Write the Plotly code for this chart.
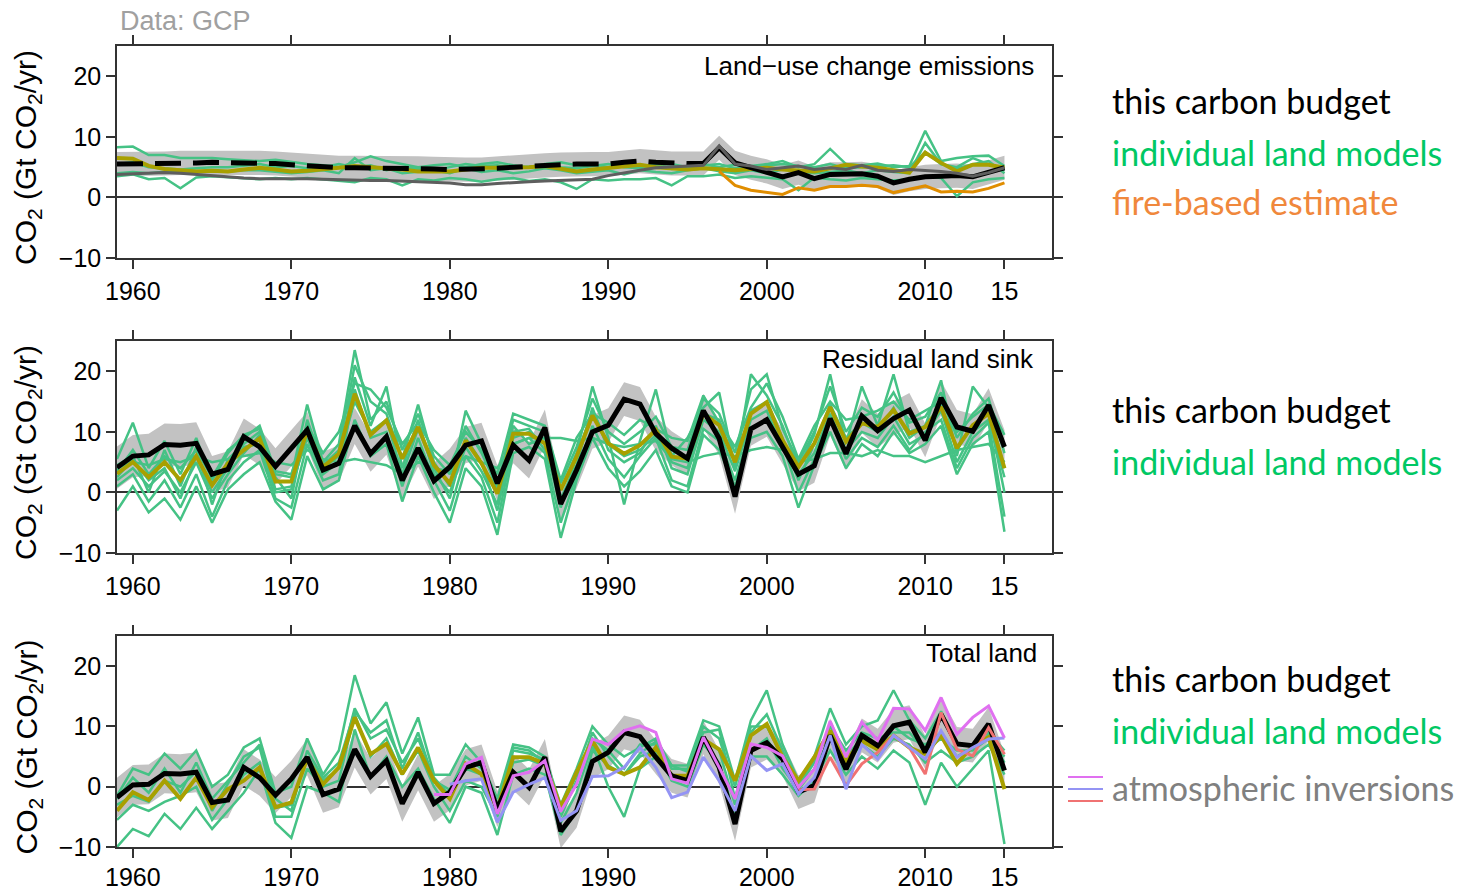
import plotly.graph_objects as go
from plotly.subplots import make_subplots

# ---------------- data (Gt CO2 / yr) ----------------
years = list(range(1959, 2016))
tick_years = [1960, 1970, 1980, 1990, 2000, 2010, 2015]
tick_text = ["1960", "1970", "1980", "1990", "2000", "2010", "15"]

# panel 1: land-use change emissions
eluc_budget = [5.5, 5.5, 5.5, 5.6, 5.7, 5.7, 5.8, 5.8, 5.8, 5.7,
               5.6, 5.4, 5.2, 5.0, 4.9, 4.9, 4.9, 4.8, 4.8, 4.8,
               4.7, 4.6, 4.6, 4.6, 4.8, 5.0, 5.2, 5.3, 5.4, 5.5,
               5.5, 5.5, 5.8, 6.0, 5.8, 5.6, 5.6, 5.6, 8.2, 5.7,
               4.9, 4.3, 3.4, 4.1, 3.1, 3.8, 3.8, 3.9, 3.5, 2.4,
               3.0, 3.4, 3.5, 3.6, 3.4, 4.1, 4.9]
eluc_sigma = [2.0] * 57
eluc_bookkeeping = [3.8, 3.9, 4.0, 4.1, 4.0, 3.8, 3.5, 3.4, 3.2, 3.1,
                    3.1, 3.2, 3.1, 3.0, 2.9, 2.9, 2.8, 2.8, 2.7, 2.7,
                    2.6, 2.4, 2.1, 2.1, 2.3, 2.5, 2.6, 2.7, 2.8, 3.0,
                    3.0, 3.6, 4.1, 4.5, 4.9, 5.0, 5.2, 5.3, 8.5, 5.5,
                    5.2, 4.6, 4.9, 5.2, 4.6, 4.9, 4.6, 5.3, 4.5, 4.3,
                    4.6, 4.5, 4.3, 4.0, 3.5, 4.1, 4.9]
eluc_model_mean = [6.5, 6.4, 5.2, 4.7, 4.5, 4.3, 4.4, 4.3, 4.6, 4.9,
                   4.6, 4.3, 4.4, 4.6, 4.9, 5.2, 5.0, 4.9, 4.6, 4.3,
                   4.3, 4.3, 4.6, 4.9, 4.9, 4.9, 5.0, 5.2, 4.8, 4.3,
                   4.6, 4.9, 5.2, 5.4, 5.0, 4.8, 4.6, 4.8, 4.7, 4.5,
                   4.7, 4.9, 4.6, 4.5, 4.3, 4.8, 5.4, 5.1, 4.9, 4.5,
                   4.1, 7.4, 5.7, 4.3, 5.4, 5.4, 4.9]
eluc_models = [
    [8.3, 8.4, 7.0, 7.0, 6.5, 6.5, 6.5, 6.3, 6.2, 6.0, 6.2, 5.8, 5.5, 5.3, 5.0, 5.8, 6.8, 6.0, 5.5, 5.0,
     5.3, 5.5, 5.0, 5.5, 5.8, 5.3, 5.0, 5.5, 5.8, 5.3, 5.5, 5.0, 5.2, 5.0, 5.4, 5.5, 5.0, 5.5, 5.0, 5.4,
     5.2, 5.5, 6.0, 5.0, 5.5, 8.0, 5.5, 5.3, 5.6, 5.0, 5.2, 11.0, 6.0, 6.5, 6.8, 6.9, 5.2],
    [3.5, 3.8, 3.0, 3.2, 1.5, 3.3, 3.5, 3.3, 3.2, 3.0, 3.2, 3.0, 3.2, 3.0, 2.8, 2.5, 3.2, 3.0, 2.0, 3.0,
     2.8, 3.2, 3.0, 2.6, 3.0, 3.2, 2.7, 3.0, 2.5, 1.4, 3.0, 2.8, 3.0, 3.0, 3.2, 2.0, 3.5, 3.5, 3.8, 3.2,
     3.5, 3.3, 3.0, 1.2, 3.3, 3.0, 2.8, 3.2, 3.0, 2.8, 3.0, 3.5, 3.2, 0.2, 2.5, 3.0, 3.2],
    [4.0, 4.2, 4.0, 4.2, 4.5, 4.3, 4.5, 4.3, 4.5, 4.5, 4.2, 4.0, 4.2, 4.5, 4.0, 6.5, 4.5, 4.8, 4.0, 4.2,
     4.5, 4.0, 4.8, 4.2, 4.5, 4.0, 4.3, 4.8, 4.5, 4.0, 4.2, 4.5, 3.8, 4.5, 4.2, 4.0, 4.5, 4.8, 4.3, 4.0,
     4.5, 4.0, 4.6, 4.3, 4.0, 4.2, 4.5, 4.0, 4.5, 4.2, 4.0, 9.0, 5.5, 5.0, 6.5, 5.5, 4.5],
    [5.5, 5.8, 5.0, 4.8, 4.6, 4.8, 5.0, 5.0, 5.3, 5.5, 5.0, 5.2, 4.8, 5.0, 5.5, 5.0, 5.3, 4.5, 5.0, 4.8,
     4.5, 5.0, 5.5, 5.2, 5.3, 4.8, 5.0, 5.3, 5.0, 4.8, 5.2, 5.5, 5.0, 4.8, 5.5, 4.7, 5.0, 5.2, 5.5, 4.8,
     5.0, 5.3, 5.5, 5.2, 5.0, 5.5, 4.8, 5.0, 5.2, 5.3, 5.0, 7.5, 5.5, 4.8, 5.5, 6.0, 4.0],
]
fire_years = list(range(1997, 2016))
fire_based = [4.3, 2.0, 1.2, 0.8, 0.5, 1.6, 1.2, 1.8, 1.8, 2.0,
              1.8, 0.8, 1.3, 1.9, 0.9, 1.0, 0.9, 1.5, 2.4]

# panel 2: residual land sink
sink_budget = [4.1, 6.0, 6.2, 7.9, 7.8, 8.1, 3.0, 3.8, 9.2, 7.5,
               4.3, 7.3, 10.3, 3.7, 4.8, 11.0, 6.4, 9.2, 2.0, 7.3,
               1.9, 4.2, 7.8, 8.5, 1.5, 7.8, 5.3, 10.7, -1.9, 3.7,
               10.0, 11.1, 15.4, 14.6, 9.7, 7.3, 5.6, 13.5, 8.9, -0.7,
               10.5, 12.0, 7.5, 3.0, 4.4, 12.2, 6.4, 12.6, 10.2, 12.2,
               13.6, 8.6, 15.6, 10.8, 10.1, 14.4, 7.5]
sink_sigma = [3.5, 3.5, 3.5, 3.5, 3.5, 3.5, 3.0, 3.0, 3.0, 3.0,
              3.0, 3.0, 3.0, 3.0, 3.0, 3.0, 3.0, 3.0, 3.0, 3.0,
              3.0, 3.0, 3.0, 3.0, 3.0, 3.0, 3.0, 3.0, 3.0, 3.0,
              2.8, 2.8, 2.8, 2.8, 2.8, 2.8, 2.8, 2.8, 2.8, 2.8,
              2.8, 2.8, 2.8, 2.8, 2.8, 2.8, 2.8, 2.8, 2.8, 2.8,
              2.8, 2.8, 2.8, 2.8, 2.8, 2.8, 2.8]
sink_model_mean = [3.1, 5.0, 2.5, 5.0, 2.0, 6.0, 1.2, 4.8, 7.0, 8.9,
                   1.8, 1.8, 10.3, 4.2, 6.4, 16.3, 9.5, 11.9, 5.6, 10.8,
                   4.5, 1.5, 8.6, 4.8, -0.2, 9.7, 9.7, 8.1, 0.4, 5.9,
                   12.7, 8.1, 6.4, 7.8, 10.3, 5.9, 5.6, 13.0, 11.1, 5.0,
                   13.0, 14.9, 8.6, 4.2, 8.1, 14.1, 8.4, 11.4, 10.8, 13.6,
                   9.7, 10.8, 14.1, 7.3, 11.1, 13.0, 4.0]
sink_models = [
    [5.5, 11.5, 4.0, 8.5, 3.0, 9.0, 2.0, 6.5, 9.5, 10.5, 3.0, 2.5, 14.5, 5.0, 8.0, 23.5, 12.0, 15.0, 7.0, 13.0,
     6.0, 3.0, 11.0, 6.5, 1.0, 12.0, 11.0, 10.0, 1.5, 7.5, 15.5, 10.0, 8.0, 10.0, 12.5, 7.5, 7.0, 15.5, 13.0, 6.5,
     17.0, 19.5, 10.5, 5.0, 10.0, 17.5, 10.0, 14.0, 12.5, 16.5, 11.5, 12.5, 16.5, 9.0, 13.0, 15.5, 6.5],
    [-3.0, 1.0, -3.3, -1.0, -4.5, 1.0, -5.0, 0.5, 3.0, 5.0, -1.5, -4.5, 6.0, 0.5, 2.0, 12.0, 6.0, 8.0, -1.5, 6.0,
     0.0, -5.0, 4.0, 1.0, -7.0, 6.5, 7.5, 5.5, -7.5, 2.0, 9.0, 4.0, 1.0, 3.5, 7.0, 1.0, 0.0, 9.5, 7.0, 1.0,
     9.0, 10.0, 6.0, -2.5, 4.5, 10.0, 4.0, 8.0, 6.0, 10.0, 6.5, 8.0, 11.0, 3.0, 8.0, 10.0, -6.5],
    [4.0, 5.0, 4.5, 5.5, 5.0, 6.0, 5.0, 5.5, 6.0, 6.5, 5.0, 4.5, 7.0, 5.5, 5.0, 5.5, 5.0, 4.5, 3.0, 5.0,
     4.0, 3.5, 6.0, 5.0, 4.0, 8.0, 9.0, 9.0, 9.0, 8.5, 9.0, 8.0, 7.5, 8.0, 8.5, 5.5, 5.0, 6.0, 6.5, 6.0,
     7.0, 7.5, 7.0, 5.0, 5.5, 6.5, 6.5, 6.0, 7.0, 6.0, 6.0, 5.0, 6.0, 7.0, 7.5, 8.0, 5.0],
    [2.0, 4.0, 1.0, 3.5, 0.0, 5.0, -1.0, 3.0, 6.5, 9.5, 0.5, 1.0, 9.0, 3.0, 5.0, 19.0, 11.0, 17.5, 4.0, 12.0,
     3.0, 0.0, 7.5, 3.5, -2.0, 10.0, 10.5, 7.0, -1.0, 4.5, 14.0, 7.0, 5.0, 6.5, 11.0, 4.0, 3.0, 12.0, 10.0, 3.5,
     12.0, 13.5, 7.5, 3.0, 6.5, 13.0, 7.0, 10.0, 9.0, 12.5, 8.0, 9.5, 13.5, 5.0, 10.0, 12.0, 2.5],
    [4.5, 6.0, 0.0, 7.0, 1.0, 7.5, -2.0, 5.5, 8.0, 10.0, 2.5, -1.0, 12.0, 4.5, 7.0, 21.0, 15.0, 13.0, 5.5, 14.5,
     5.0, 1.0, 13.5, 8.0, 0.0, 11.0, 8.0, 9.0, 0.5, 6.5, 17.5, 9.0, -2.0, 8.5, 17.0, 6.0, 9.0, 14.0, 16.5, 4.0,
     19.5, 16.0, 11.0, 4.0, 9.5, 19.5, 8.0, 17.5, 11.0, 19.5, 10.0, 11.0, 18.5, 6.0, 17.5, 14.0, 4.0],
    [1.0, 3.0, -1.5, 2.0, -2.5, 3.0, -4.0, 2.0, 5.0, 7.0, -1.0, -2.5, 8.0, 2.0, 3.0, 17.0, 9.0, 10.0, 1.0, 9.0,
     2.0, -3.0, 6.0, 2.5, -5.0, 8.0, 9.0, 6.5, -5.0, 3.0, 11.0, 5.5, 2.5, 6.0, 9.0, 2.0, 1.0, 10.5, 8.5, 2.0,
     10.5, 12.0, 8.0, 0.0, 5.5, 12.0, 5.5, 9.0, 7.5, 11.0, 7.0, 10.0, 12.0, 4.0, 9.0, 11.5, -4.0],
    [3.5, 7.0, 3.0, 6.0, 4.0, 7.0, 2.5, 7.0, 9.0, 11.0, 3.5, 3.0, 11.0, 6.5, 10.0, 18.0, 17.0, 14.0, 8.0, 11.5,
     7.0, 4.5, 10.0, 7.0, 3.0, 13.0, 12.0, 11.0, 2.0, 9.0, 13.0, 11.5, 9.5, 12.0, 10.5, 9.0, 8.5, 16.0, 11.5, 7.5,
     14.0, 18.0, 12.5, 5.5, 11.0, 15.0, 12.0, 12.5, 13.5, 15.0, 12.0, 13.5, 15.0, 10.0, 12.5, 14.5, 9.5],
    [2.5, 5.5, 2.0, 4.0, -1.0, 6.0, 0.0, 4.0, 7.5, 8.0, 0.0, 0.5, 10.0, 4.0, 6.0, 15.0, 10.0, 12.0, 3.0, 10.5,
     4.0, -1.0, 9.0, 5.0, -3.0, 9.0, 10.0, 8.0, -2.5, 6.0, 13.5, 8.0, 6.0, 7.0, 9.5, 5.0, 4.0, 13.0, 12.0, 5.0,
     13.5, 15.0, 9.0, 2.0, 8.0, 14.5, 9.0, 11.5, 10.0, 14.0, 9.0, 11.0, 14.5, 7.0, 11.0, 13.0, 0.0],
]

# panel 3: total land
total_budget = [-1.8, 0.3, 0.4, 2.2, 2.1, 2.4, -2.6, -2.2, 3.2, 1.5,
                -1.4, 1.3, 4.9, -1.3, -0.4, 6.2, 1.7, 4.3, -2.8, 2.4,
                -2.8, -0.9, 3.2, 4.0, -3.7, 2.4, -0.1, 4.9, -7.4, -4.0,
                4.2, 5.7, 9.0, 8.3, 4.9, 1.8, 1.0, 8.2, 3.2, -6.2,
                6.0, 7.3, 4.6, -0.9, 0.2, 8.5, 2.9, 8.5, 6.8, 10.1,
                10.7, 5.7, 12.0, 7.1, 6.8, 10.4, 2.7]
total_sigma = [3.3, 3.3, 3.3, 3.3, 3.3, 3.3, 3.0, 3.0, 3.0, 3.0,
               3.0, 3.0, 3.0, 3.0, 3.0, 3.0, 3.0, 3.0, 3.0, 3.0,
               3.0, 3.0, 3.0, 3.0, 3.0, 3.0, 3.0, 3.0, 2.8, 2.8,
               2.8, 2.8, 2.8, 2.8, 2.8, 2.8, 2.8, 2.8, 2.8, 2.8,
               2.8, 2.8, 2.8, 2.8, 2.8, 2.8, 2.8, 2.8, 2.8, 2.8,
               2.8, 2.8, 2.8, 2.8, 2.8, 2.8, 2.8]
total_model_mean = [-4.0, -0.9, -2.2, 1.0, -2.0, 1.5, -3.4, -0.4, 1.0, 3.2,
                    -3.4, -2.6, 4.6, 0.4, 3.2, 11.5, 5.4, 7.1, 2.1, 6.5,
                    1.0, -2.0, 3.8, 2.1, -3.7, 4.9, 4.9, 3.8, -3.4, 2.4,
                    7.6, 3.2, 2.1, 3.2, 6.5, 1.8, 1.8, 7.9, 6.2, 1.0,
                    8.5, 10.4, 4.9, 1.0, 4.9, 9.3, 4.3, 7.6, 6.2, 8.5,
                    6.5, 5.4, 8.5, 3.8, 6.8, 8.2, -0.4]
total_models = [
    [-10.0, -7.0, -8.2, -4.5, -7.0, -3.5, -7.0, -4.0, -1.0, 3.0, -6.0, -8.5, 0.0, -1.0, -2.5, 9.5, 1.5, 5.0, 0.0, 3.0,
     -2.0, -6.0, 0.0, -1.0, -8.0, 2.0, 3.0, 2.0, -8.0, -4.0, 6.0, 3.5, 2.0, 5.0, 6.0, 1.0, 0.0, 7.0, 4.0, -5.0,
     5.0, 5.0, 2.0, -1.5, 1.0, 6.0, 2.0, 5.0, 3.0, 6.0, 4.0, -3.0, 4.0, 0.0, 3.0, 6.0, -9.5],
    [-1.5, 3.0, 2.0, 5.5, 3.0, 6.0, 0.0, 2.0, 6.5, 8.0, -1.0, 0.0, 8.0, 2.0, 6.0, 18.5, 10.5, 14.0, 5.5, 11.5,
     2.0, 2.0, 7.0, 4.0, -2.0, 7.0, 6.5, 5.0, -3.0, 3.0, 10.0, 7.0, 5.0, 6.5, 8.0, 3.5, 3.5, 11.0, 10.0, 1.0,
     11.0, 16.0, 7.0, 1.0, 5.0, 13.0, 7.0, 10.0, 11.0, 16.0, 11.0, 8.0, 12.5, 7.0, 7.0, 9.0, 6.0],
    [-5.5, -3.0, -4.0, -2.5, -1.5, 0.0, -5.5, -2.0, 2.0, 4.0, -5.0, -5.0, 3.0, 0.0, 1.0, 12.0, 5.0, 8.0, 2.0, 6.0,
     0.0, -4.0, 1.0, 0.0, -5.0, 4.0, 4.5, 3.5, -6.0, -1.0, 7.0, 0.0, -5.0, 3.0, 5.0, 2.0, 1.5, 8.0, 6.0, -3.0,
     6.0, 8.0, 3.0, -0.5, 3.0, 8.0, 4.0, 7.0, 5.0, 8.0, 7.0, 4.0, 6.0, 4.0, 5.0, 7.0, 2.0],
    [-3.0, -1.5, -2.5, 1.0, 0.0, 2.5, -4.0, 0.5, 5.0, 6.5, -3.5, -3.0, 5.0, 1.0, 3.0, 13.0, 8.0, 9.5, 4.0, 8.0,
     1.5, -1.5, 3.0, 2.0, -4.0, 6.0, 5.5, 4.5, -4.0, 2.0, 8.0, 6.0, 3.0, 7.0, 7.0, 3.0, 3.0, 9.0, 9.5, -2.0,
     9.0, 12.0, 6.0, 0.0, 4.0, 10.0, 6.0, 9.0, 8.0, 9.0, 9.0, 6.0, 8.0, 6.0, 6.0, 8.0, 5.0],
    [-2.0, 1.5, -1.0, 3.0, -1.0, 4.0, -2.0, 1.0, 4.0, 7.0, -2.0, -4.0, 6.0, 1.5, 4.0, 12.5, 9.0, 11.0, 3.0, 9.0,
     1.0, -0.5, 5.0, 3.0, -3.0, 6.5, 6.0, 4.0, -5.0, 1.0, 9.0, 5.0, 2.0, 5.5, 7.5, 3.5, 2.5, 10.0, 8.0, 0.0,
     10.0, 10.0, 5.0, 0.5, 4.5, 9.0, 5.0, 8.0, 6.0, 10.0, 8.0, 7.0, 9.0, 5.0, 6.5, 8.5, 4.0],
]

# atmospheric inversions (total land)
inv1_years = list(range(1979, 2016))
inv1 = [-1.3, -1.3, 3.8, 4.9, -4.5, 1.8, 2.4, 4.3, -4.1, 0.4,
        7.9, 7.0, 9.3, 10.1, 9.0, 1.3, 0.6, 8.2, 3.2, -2.0,
        7.1, 6.5, 5.1, -0.1, 2.9, 10.9, 4.9, 10.7, 7.7, 13.0,
        12.9, 9.3, 14.8, 8.7, 11.5, 13.4, 8.1]
inv2_years = list(range(1980, 2016))
inv2 = [0.4, 1.0, 1.3, -5.9, -0.9, 0.4, 1.5, -5.6, -4.0, 1.7,
        1.8, 3.2, 6.5, 3.2, -1.8, -0.9, 4.9, 1.0, -4.0, 5.1,
        2.7, 3.8, -1.2, 1.5, 8.5, -0.4, 7.0, 4.6, 8.5, 6.5,
        4.6, 9.3, 4.9, 6.5, 7.9, 8.1]
inv3_years = list(range(2002, 2016))
inv3 = [-0.5, -0.4, 4.9, 0.2, 3.8, 5.7, 8.5, 6.5, 2.1, 12.3,
        6.2, 5.1, 9.8, 5.4]

# ---------------- styling ----------------
W, H = 1473, 892
GREEN = "#45c285"
OLIVE = "#a8a000"
BAND = "#c2c2c2"
AXC = "#333333"
FONT = "Liberation Sans, Arial, sans-serif"

fig = make_subplots(rows=3, cols=1)


def band(row, center, sigma):
    hi = [c + s for c, s in zip(center, sigma)]
    lo = [c - s for c, s in zip(center, sigma)]
    fig.add_trace(go.Scatter(x=years, y=hi, mode="lines", line=dict(width=0, color=BAND),
                             hoverinfo="skip"), row=row, col=1)
    fig.add_trace(go.Scatter(x=years, y=lo, mode="lines", line=dict(width=0, color=BAND),
                             fill="tonexty", fillcolor=BAND, hoverinfo="skip"), row=row, col=1)


def line(row, x, y, color, width, dash=None):
    fig.add_trace(go.Scatter(x=x, y=y, mode="lines",
                             line=dict(color=color, width=width, dash=dash)), row=row, col=1)


# panel 1
band(1, eluc_budget, eluc_sigma)
for m in eluc_models:
    line(1, years, m, GREEN, 2.5)
line(1, years, eluc_model_mean, OLIVE, 4)
line(1, fire_years, fire_based, "#e08d00", 3)
line(1, years[:38], eluc_budget[:38], "black", 5, "26px,12px")
line(1, years[37:], eluc_budget[37:], "black", 5)
line(1, years, eluc_bookkeeping, "#5e5e5e", 3)

# panel 2
band(2, sink_budget, sink_sigma)
for m in sink_models:
    line(2, years, m, GREEN, 2.5)
line(2, years, sink_model_mean, OLIVE, 4)
line(2, years, sink_budget, "black", 5)

# panel 3
band(3, total_budget, total_sigma)
for m in total_models:
    line(3, years, m, GREEN, 2.5)
line(3, years, total_model_mean, OLIVE, 4)
line(3, years, total_budget, "black", 5)
line(3, inv3_years, inv3, "#f07272", 3)
line(3, inv2_years, inv2, "#9494f4", 3)
line(3, inv1_years, inv1, "#e070f0", 3)

# axes / layout
panels = [(46, 258), (341, 553), (636, 847)]
xdom = [117 / W, 1052 / W]
axis_common = dict(showline=True, linecolor=AXC, linewidth=1.5, mirror="ticks",
                   ticks="outside", ticklen=9, tickwidth=1.5, tickcolor=AXC,
                   showgrid=False, automargin=False,
                   tickfont=dict(family=FONT, size=25, color="black"))
for i, (top, bot) in enumerate(panels, start=1):
    fig.update_xaxes(row=i, col=1, domain=xdom, range=[1959, 2018],
                     tickvals=tick_years, ticktext=tick_text, zeroline=False,
                     ticklabelstandoff=1 if i < 3 else -2, **axis_common)
    fig.update_yaxes(row=i, col=1, domain=[1 - bot / H, 1 - top / H], range=[-10, 25],
                     tickvals=[-10, 0, 10, 20], ticktext=["\u221210", "0", "10", "20"],
                     zeroline=True, zerolinecolor=AXC, zerolinewidth=1.5, **axis_common)

ann = []
titles = ["Land\u2212use change emissions", "Residual land sink", "Total land"]
title_pos = [(1036, 66), (1036, 359), (1039, 653)]
for (top, bot), t, (tx, ty) in zip(panels, titles, title_pos):
    ann.append(dict(x=tx / W, y=1 - ty / H, xref="paper", yref="paper", text=t,
                    showarrow=False, xanchor="right", yanchor="middle",
                    font=dict(family=FONT, size=26, color="black")))
    ann.append(dict(x=28 / W, y=1 - ((top + bot) / 2 + 6) / H, xref="paper", yref="paper",
                    text="CO<sub>2</sub> (Gt CO<sub>2</sub>/yr)", textangle=-90,
                    showarrow=False, xanchor="center", yanchor="middle",
                    font=dict(family=FONT, size=30, color="black")))

ann.append(dict(x=118 / W, y=1 - 21 / H, xref="paper", yref="paper", text="Data: GCP",
                showarrow=False, xanchor="left", yanchor="middle",
                font=dict(family=FONT, size=27, color="#a0a0a0")))

RFONT = "Lato, Open Sans, sans-serif"
labels = [
    ("this carbon budget", "black", 101), ("individual land models", "#00c864", 152),
    ("fire-based estimate", "#f0883c", 201),
    ("this carbon budget", "black", 409), ("individual land models", "#00c864", 461),
    ("this carbon budget", "black", 678), ("individual land models", "#00c864", 730),
    ("atmospheric inversions", "#808080", 787),
]
for text, color, y in labels:
    ann.append(dict(x=1110 / W, y=1 - y / H, xref="paper", yref="paper", text=text,
                    showarrow=False, xanchor="left", yanchor="middle",
                    font=dict(family=RFONT, size=34, color=color)))

shapes = []
for c, y in [("#e070f0", 777), ("#9494f4", 789), ("#f07272", 801)]:
    shapes.append(dict(type="line", xref="paper", yref="paper",
                       x0=1068 / W, x1=1103 / W, y0=1 - y / H, y1=1 - y / H,
                       line=dict(color=c, width=2)))

fig.update_layout(width=W, height=H, margin=dict(l=0, r=0, t=0, b=0, pad=0),
                  plot_bgcolor="white", paper_bgcolor="white", showlegend=False,
                  annotations=ann, shapes=shapes)

fig.write_html("out.html", config={"displayModeBar": False},
               post_script="document.body.style.margin='0';document.body.style.overflow='hidden';")
